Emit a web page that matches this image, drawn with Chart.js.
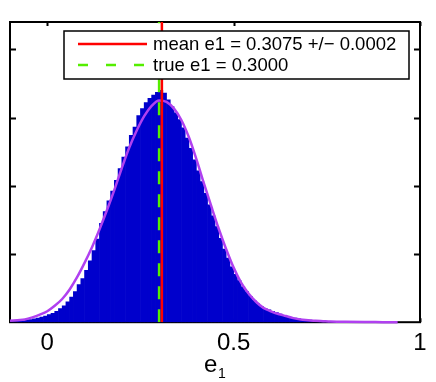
<!DOCTYPE html>
<html>
<head>
<meta charset="utf-8">
<script src="https://cdn.jsdelivr.net/npm/chart.js@4.4.1/dist/chart.umd.min.js"></script>
<style>
  html, body { margin: 0; padding: 0; background: #fff; }
</style>
</head>
<body>
<canvas id="histCanvas" width="436" height="382"></canvas>
<script>
// histogram bins (centres) and heights
const binCenters = [
  -0.095, -0.085, -0.075, -0.065, -0.055, -0.045, -0.035, -0.025, -0.015, -0.005,
  0.005, 0.015, 0.025, 0.035, 0.045, 0.055, 0.065, 0.075, 0.085, 0.095,
  0.105, 0.115, 0.125, 0.135, 0.145, 0.155, 0.165, 0.175, 0.185, 0.195,
  0.205, 0.215, 0.225, 0.235, 0.245, 0.255, 0.265, 0.275, 0.285, 0.295,
  0.305, 0.315, 0.325, 0.335, 0.345, 0.355, 0.365, 0.375, 0.385, 0.395,
  0.405, 0.415, 0.425, 0.435, 0.445, 0.455, 0.465, 0.475, 0.485, 0.495,
  0.505, 0.515, 0.525, 0.535, 0.545, 0.555, 0.565, 0.575, 0.585, 0.595,
  0.605, 0.615, 0.625, 0.635, 0.645, 0.655, 0.665, 0.675, 0.685, 0.695,
  0.705, 0.715, 0.725, 0.735, 0.745, 0.755, 0.765, 0.775, 0.785, 0.795,
  0.805, 0.815, 0.825, 0.835, 0.845, 0.855, 0.865, 0.875, 0.885, 0.895
];
const binCounts = [
  0.005, 0.010, 0.012, 0.020, 0.030, 0.040, 0.050, 0.060, 0.075, 0.090,
  0.11, 0.13, 0.16, 0.20, 0.24, 0.30, 0.37, 0.45, 0.55, 0.64,
  0.76, 0.90, 1.05, 1.22, 1.45, 1.62, 1.78, 1.92, 2.08, 2.25,
  2.42, 2.57, 2.74, 2.86, 3.03, 3.13, 3.22, 3.28, 3.33, 3.37,
  3.40, 3.36, 3.26, 3.16, 3.07, 2.97, 2.85, 2.70, 2.55, 2.38,
  2.22, 2.06, 1.89, 1.72, 1.56, 1.40, 1.23, 1.07, 0.94, 0.81,
  0.70, 0.61, 0.52, 0.45, 0.38, 0.32, 0.27, 0.23, 0.20, 0.18,
  0.16, 0.14, 0.12, 0.10, 0.08, 0.07, 0.06, 0.05, 0.04, 0.035,
  0.030, 0.025, 0.020, 0.015, 0.012, 0.010, 0.008, 0.006, 0.005, 0.004,
  0.003, 0.003, 0.002, 0.002, 0.002, 0.001, 0.001, 0.001, 0.001, 0
];

// fitted curve (purple)
const fitX = [
  -0.10, -0.08, -0.06, -0.04, -0.02, 0.00, 0.02, 0.04, 0.06, 0.08,
  0.10, 0.12, 0.14, 0.16, 0.18, 0.20, 0.22, 0.24, 0.26, 0.28,
  0.30, 0.32, 0.34, 0.36, 0.38, 0.40, 0.42, 0.44, 0.46, 0.48,
  0.50, 0.52, 0.54, 0.56, 0.58, 0.60, 0.62, 0.64, 0.66, 0.68,
  0.70, 0.72, 0.74, 0.76, 0.80, 0.85, 0.90, 0.94
];
const fitY = [
  0.02, 0.03, 0.04, 0.07, 0.11, 0.16, 0.24, 0.34, 0.48, 0.66,
  0.87, 1.10, 1.36, 1.64, 1.94, 2.26, 2.56, 2.81, 3.02, 3.17,
  3.25, 3.23, 3.13, 2.96, 2.71, 2.39, 2.04, 1.70, 1.37, 1.07,
  0.80, 0.58, 0.42, 0.30, 0.21, 0.16, 0.12, 0.09, 0.06, 0.04,
  0.03, 0.02, 0.015, 0.01, 0.005, 0.002, 0.001, 0
];

const meanE1 = 0.3075; // measured mean
const trueE1 = 0.3; // true value
const legendLabels = ['mean e1 = 0.3075 +/\u2212 0.0002', 'true e1 = 0.3000'];
const xTicks = [0, 0.5, 1];
const yTicks = [1, 2, 3, 4]; // unlabelled tick marks
const xRange = [-0.1, 1.0];
const yRange = [0, 4.4];

const FONT = "'Liberation Sans', Arial, Helvetica, sans-serif";
Chart.defaults.font.family = FONT;

// box round the axes with inward ticks, drawn below the data
const framePlugin = {
  id: 'frame',
  beforeDatasetsDraw(chart) {
    const { ctx, chartArea: a, scales: { x, y } } = chart;
    ctx.save();
    ctx.strokeStyle = '#000';
    ctx.lineWidth = 2;
    ctx.strokeRect(a.left, a.top, a.right - a.left, a.bottom - a.top);
    ctx.beginPath();
    yTicks.forEach(v => {
      const py = Math.round(y.getPixelForValue(v)) + 0.5;
      ctx.moveTo(a.left, py); ctx.lineTo(a.left + 6, py);
      ctx.moveTo(a.right, py); ctx.lineTo(a.right - 6, py);
    });
    xTicks.forEach(v => {
      const px = Math.round(x.getPixelForValue(v)) + 0.5;
      ctx.moveTo(px, a.top); ctx.lineTo(px, a.top + 4);
      ctx.moveTo(px, a.bottom); ctx.lineTo(px, a.bottom - 4);
    });
    ctx.stroke();
    ctx.restore();
  }
};

// legend box in the upper right, plus the e_1 axis title
const legendPlugin = {
  id: 'boxLegend',
  afterDatasetsDraw(chart) {
    const { ctx, chartArea: a } = chart;
    const left = a.left + 54, top = a.top + 9;
    const right = a.right - 11, bottom = top + 48;
    ctx.save();
    ctx.fillStyle = '#fff';
    ctx.fillRect(left, top, right - left, bottom - top);
    ctx.strokeStyle = '#000';
    ctx.lineWidth = 1.5;
    ctx.strokeRect(left, top, right - left, bottom - top);

    const rowsY = [top + 13, top + 34];
    const dashes = [[], [10, 18]];
    [0, 1].forEach(i => {
      const ds = chart.data.datasets[i];
      ctx.beginPath();
      ctx.strokeStyle = ds.borderColor;
      ctx.lineWidth = ds.borderWidth;
      ctx.setLineDash(dashes[i]);
      ctx.moveTo(left + 14, rowsY[i]);
      ctx.lineTo(left + 83, rowsY[i]);
      ctx.stroke();
      ctx.setLineDash([]);
      ctx.fillStyle = '#000';
      ctx.font = '18.5px ' + FONT;
      ctx.textBaseline = 'middle';
      ctx.textAlign = 'left';
      ctx.fillText(ds.label, left + 89, rowsY[i] + 1);
    });
    ctx.restore();
  },
  afterDraw(chart) {
    const { ctx, chartArea: a } = chart;
    const cx = (a.left + a.right) / 2;
    ctx.save();
    ctx.fillStyle = '#000';
    ctx.textAlign = 'left';
    ctx.textBaseline = 'alphabetic';
    ctx.font = '24px ' + FONT;
    ctx.fillText('e', cx - 11, a.bottom + 50); // x axis title
    ctx.font = '14px ' + FONT;
    ctx.fillText('1', cx + 3, a.bottom + 56); // subscript
    ctx.restore();
  }
};

function drawHistogram() {
  const ctx = document.getElementById('histCanvas').getContext('2d');

  const histData = binCenters.map((c, i) => ({ x: c, y: binCounts[i] }));
  const fitData = fitX.map((c, i) => ({ x: c, y: fitY[i] }));

  new Chart(ctx, {
    type: 'bar',
    data: {
      datasets: [
        {
          type: 'line',
          label: legendLabels[0],
          data: [{ x: meanE1, y: yRange[0] }, { x: meanE1, y: yRange[1] }],
          borderColor: '#ff0000',
          borderWidth: 2.5,
          pointRadius: 0,
          order: 0
        },
        {
          type: 'line',
          label: legendLabels[1],
          data: [{ x: trueE1, y: yRange[0] }, { x: trueE1, y: yRange[1] }],
          borderColor: '#55ee00',
          borderWidth: 2.5,
          borderDash: [13, 10],
          pointRadius: 0,
          order: 1
        },
        {
          type: 'line',
          label: 'fit',
          data: fitData,
          borderColor: '#b040f0',
          borderWidth: 2.5,
          cubicInterpolationMode: 'monotone',
          pointRadius: 0,
          clip: 4,
          order: 2
        },
        {
          type: 'bar',
          label: 'histogram',
          data: histData,
          backgroundColor: '#0000cc',
          borderWidth: 0,
          barPercentage: 1,
          categoryPercentage: 1,
          order: 3
        }
      ]
    },
    options: {
      responsive: false,
      animation: false,
      layout: { padding: { left: 10, right: 16, top: 22, bottom: 17 } },
      scales: {
        x: {
          type: 'linear',
          min: xRange[0],
          max: xRange[1],
          offset: false,
          afterBuildTicks: scale => { scale.ticks = xTicks.map(v => ({ value: v })); },
          grid: { display: false, drawTicks: false },
          border: { display: false },
          ticks: {
            color: '#000',
            font: { size: 24 },
            padding: 7,
            maxRotation: 0,
            callback: value => String(value) // 0, 0.5, 1
          }
        },
        y: {
          display: false,
          min: yRange[0],
          max: yRange[1]
        }
      },
      plugins: {
        legend: { display: false },
        tooltip: { enabled: false }
      }
    },
    plugins: [framePlugin, legendPlugin]
  });
}

drawHistogram();
</script>
</body>
</html>
